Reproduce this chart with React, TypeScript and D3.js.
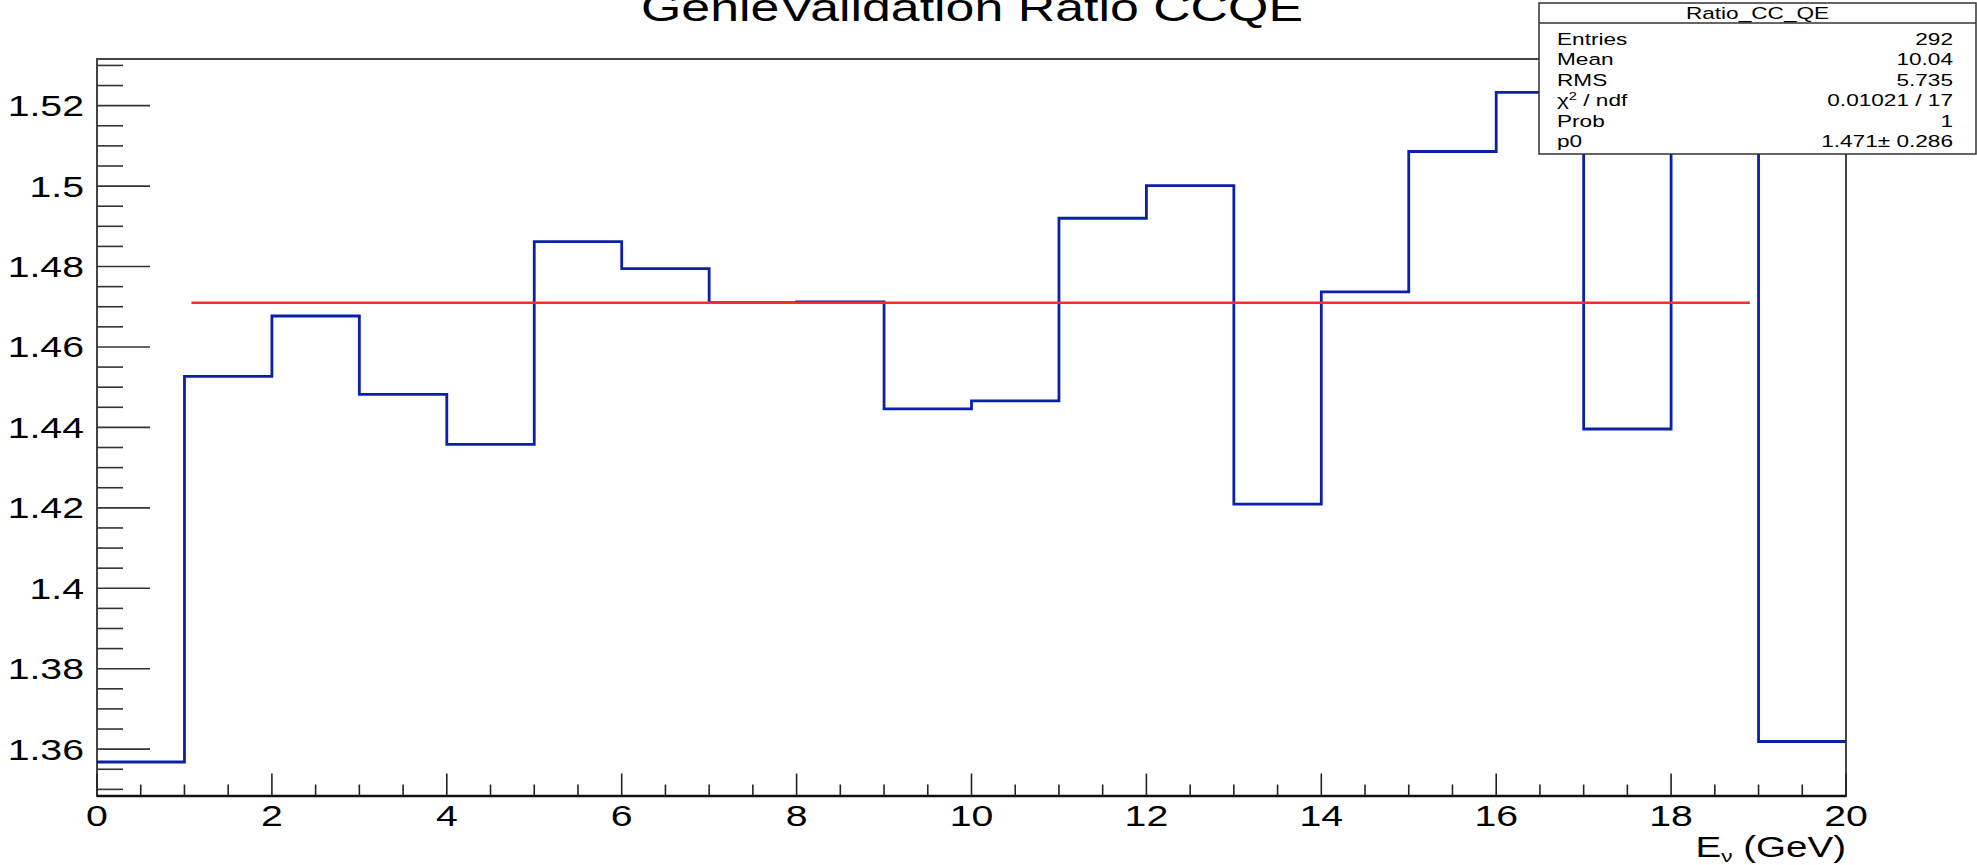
import React from "react";
import * as d3 from "d3";

// Histogram: ratio per 1 GeV neutrino-energy bin, 0–20 GeV
const binEdges = [0, 1, 2, 3, 4, 5, 6, 7, 8, 9, 10, 11, 12, 13, 14, 15, 16, 17, 18, 19, 20];
const ratioValues = [
  1.3568, 1.4527, 1.4677, 1.4482, 1.4358, 1.4862, 1.4795, 1.4710, 1.4712, 1.4446,
  1.4466, 1.4920, 1.5001, 1.4209, 1.4737, 1.5086, 1.5233, 1.4396, 1.5150, 1.3619,
];

// Constant fit p0 and the range it is drawn over
const fitValue = 1.471;
const fitRange = [1.08, 18.9];

const xTickValues = [0, 2, 4, 6, 8, 10, 12, 14, 16, 18, 20];
const xTickLabels = ["0", "2", "4", "6", "8", "10", "12", "14", "16", "18", "20"];
const yTickValues = [1.36, 1.38, 1.4, 1.42, 1.44, 1.46, 1.48, 1.5, 1.52];
const yTickLabels = ["1.36", "1.38", "1.4", "1.42", "1.44", "1.46", "1.48", "1.5", "1.52"];

const statsTitle = "Ratio_CC_QE";
const statsLabels = ["Entries", "Mean", "RMS", "chi2", "Prob", "p0"];
const statsValues = ["292", "10.04", "5.735", "0.01021 / 17", "1", "1.471\u00b1 0.286"];

const titleText = "GenieValidation Ratio CCQE";

const FONT = "'Liberation Sans', Arial, Helvetica, sans-serif";
const SX = 1.33; // horizontal text stretch

export default function App() {
  const W = 1977;
  const H = 865;
  const frame = { left: 97, right: 1846, top: 59, bottom: 796 };

  const x = d3.scaleLinear().domain([0, 20]).range([frame.left, frame.right]);
  const y = d3.scaleLinear().domain([1.34835, 1.5316]).range([frame.bottom, frame.top]);

  const stepPoints: [number, number][] = ratioValues.map((v, i) => [binEdges[i], v]);
  stepPoints.push([binEdges[binEdges.length - 1], ratioValues[ratioValues.length - 1]]);
  const histPath = d3
    .line<[number, number]>()
    .x((d) => x(d[0]))
    .y((d) => y(d[1]))
    .curve(d3.curveStepAfter)(stepPoints) as string;

  const xMinor = d3.range(0, 80.5, 2).map((k) => k / 4).filter((v) => v % 2 !== 0);
  const yMinor = d3
    .range(1350, 1531, 5)
    .map((k) => k / 1000)
    .filter((v) => !yTickValues.some((t) => Math.abs(t - v) < 1e-6));

  const majorY = 53;
  const minorY = 26;
  const majorX = 22.5;
  const minorX = 11.5;

  const statsBox = { x0: 1539, x1: 1976, y0: 3, y1: 154, header: 23 };
  const rowY0 = 45;
  const rowStep = 20.4;

  const stretched = (tx: number, ty: number) => `translate(${tx},${ty}) scale(${SX},1)`;

  return (
    <div style={{ position: "fixed", left: 0, top: 0, width: W, height: H, background: "#fff" }}>
      <svg width={W} height={H} style={{ display: "block" }} fontFamily={FONT}>
        <rect x={0} y={0} width={W} height={H} fill="#fff" />

        {/* title */}
        <text transform={stretched(972, 21)} textAnchor="middle" fontSize={39} fill="#000">
          {titleText}
        </text>

        {/* frame */}
        <rect
          x={frame.left}
          y={frame.top}
          width={frame.right - frame.left}
          height={frame.bottom - frame.top}
          fill="none"
          stroke="#444"
          strokeWidth={2}
        />

        {/* histogram */}
        <path d={histPath} fill="none" stroke="#0c22a6" strokeWidth={2.8} />

        {/* fit */}
        <line
          x1={x(fitRange[0])}
          x2={x(fitRange[1])}
          y1={y(fitValue)}
          y2={y(fitValue)}
          stroke="#ff2a2a"
          strokeWidth={2.6}
        />

        {/* y axis */}
        <g stroke="#333" strokeWidth={1.6}>
          {yTickValues.map((v) => (
            <line key={"ym" + v} x1={frame.left} x2={frame.left + majorY} y1={y(v)} y2={y(v)} />
          ))}
          {yMinor.map((v) => (
            <line key={"yn" + v} x1={frame.left} x2={frame.left + minorY} y1={y(v)} y2={y(v)} />
          ))}
        </g>
        {yTickValues.map((v, i) => (
          <text
            key={"yl" + v}
            transform={stretched(84, y(v) + 10.5)}
            textAnchor="end"
            fontSize={29.5}
            fill="#000"
          >
            {yTickLabels[i]}
          </text>
        ))}

        {/* x axis */}
        <line x1={frame.left} x2={frame.right} y1={frame.bottom} y2={frame.bottom} stroke="#111" strokeWidth={2.5} />
        <g stroke="#222" strokeWidth={1.6}>
          {xTickValues.map((v) => (
            <line key={"xm" + v} x1={x(v)} x2={x(v)} y1={frame.bottom} y2={frame.bottom - majorX} />
          ))}
          {xMinor.map((v) => (
            <line key={"xn" + v} x1={x(v)} x2={x(v)} y1={frame.bottom} y2={frame.bottom - minorX} />
          ))}
        </g>
        {xTickValues.map((v, i) => (
          <text
            key={"xl" + v}
            transform={stretched(x(v), 826)}
            textAnchor="middle"
            fontSize={29.5}
            fill="#000"
          >
            {xTickLabels[i]}
          </text>
        ))}
        <text transform={stretched(frame.right, 857)} textAnchor="end" fontSize={29} fill="#000">
          E<tspan fontSize={17} dy={5}>ν</tspan>
          <tspan dy={-5}> (GeV)</tspan>
        </text>

        {/* statistics box */}
        <rect
          x={statsBox.x0}
          y={statsBox.y0}
          width={statsBox.x1 - statsBox.x0}
          height={statsBox.y1 - statsBox.y0}
          fill="#fff"
          stroke="#333"
          strokeWidth={1.5}
        />
        <line x1={statsBox.x0} x2={statsBox.x1} y1={statsBox.header} y2={statsBox.header} stroke="#333" strokeWidth={1.5} />
        <text
          transform={stretched((statsBox.x0 + statsBox.x1) / 2, 19)}
          textAnchor="middle"
          fontSize={17}
          fill="#000"
        >
          {statsTitle}
        </text>
        {statsLabels.map((lab, i) => (
          <text key={"sl" + i} transform={stretched(1557, rowY0 + i * rowStep)} fontSize={17} fill="#000">
            {lab === "chi2" ? (
              <>
                χ<tspan fontSize={11} dy={-6}>2</tspan>
                <tspan dy={6}> / ndf</tspan>
              </>
            ) : (
              lab
            )}
          </text>
        ))}
        {statsValues.map((val, i) => (
          <text
            key={"sv" + i}
            transform={stretched(1953, rowY0 + i * rowStep)}
            textAnchor="end"
            fontSize={17}
            fill="#000"
          >
            {val}
          </text>
        ))}
      </svg>
    </div>
  );
}
